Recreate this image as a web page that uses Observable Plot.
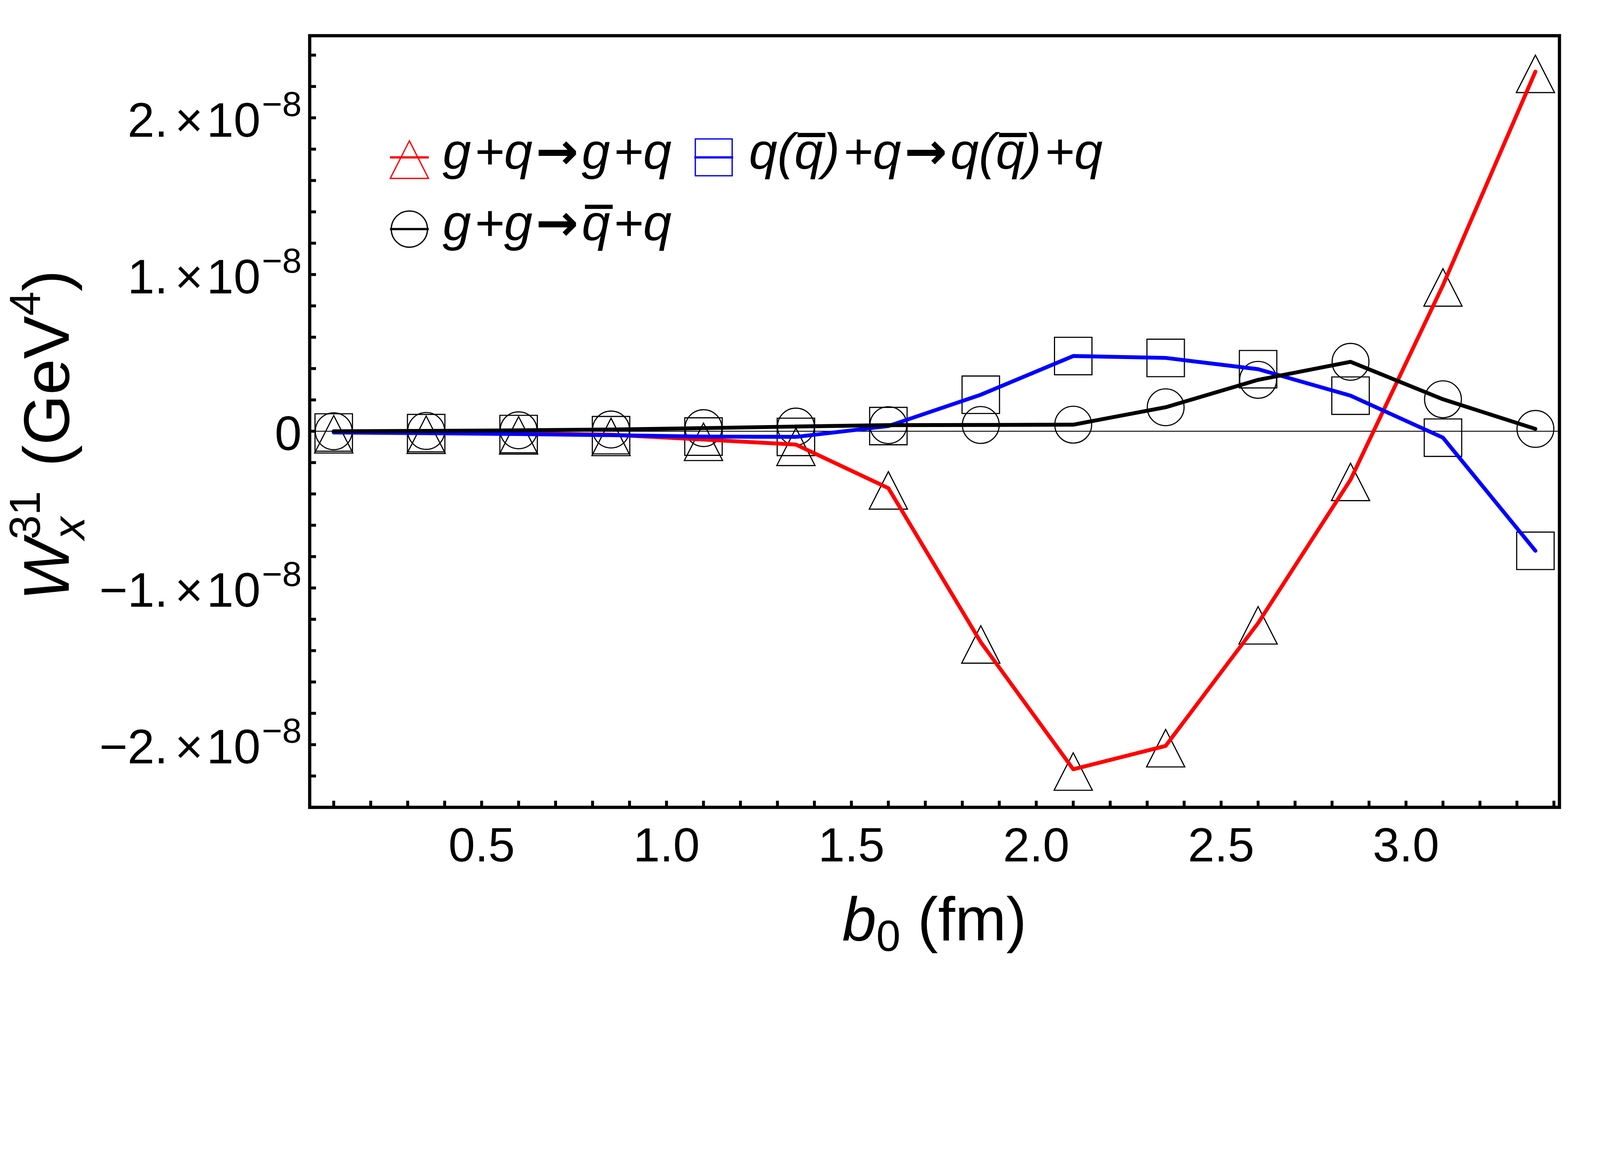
<!DOCTYPE html>
<html>
<head>
<meta charset="utf-8">
<script src="https://cdn.jsdelivr.net/npm/d3@7"></script>
<script src="https://cdn.jsdelivr.net/npm/@observablehq/plot@0.6"></script>
<style>
  html, body { margin: 0; padding: 0; background: #fff; }
  #chart svg { display: block; width: 100%; height: auto; max-width: 100%; }
</style>
</head>
<body>
<div id="chart"></div>
<script>
// ---- data ----
const b0 = [0.1, 0.35, 0.6, 0.85, 1.1, 1.35, 1.6, 1.85, 2.1, 2.35, 2.6, 2.85, 3.1, 3.35];
// g+q -> g+q (red, triangles)
const gqgq = [-0.005e-8, -0.008e-8, -0.012e-8, -0.022e-8, -0.053e-8, -0.085e-8, -0.363e-8, -1.346e-8, -2.157e-8, -2.008e-8, -1.224e-8, -0.309e-8, 0.932e-8, 2.295e-8];
// q(qbar)+q -> q(qbar)+q (blue, squares)
const qqqq = [-0.008e-8, -0.012e-8, -0.018e-8, -0.025e-8, -0.034e-8, -0.036e-8, 0.033e-8, 0.233e-8, 0.480e-8, 0.468e-8, 0.396e-8, 0.227e-8, -0.041e-8, -0.763e-8];
// g+g -> qbar+q (black, circles)
const ggqq = [0.000e-8, 0.002e-8, 0.006e-8, 0.011e-8, 0.020e-8, 0.030e-8, 0.039e-8, 0.040e-8, 0.042e-8, 0.153e-8, 0.328e-8, 0.443e-8, 0.204e-8, 0.015e-8];

const seriesColors = ["#ff0000", "#0000ff", "#000000"];
const xTickLabels = [0.5, 1.0, 1.5, 2.0, 2.5, 3.0];
const xMinorTicks = d3.range(1, 35).map(i => i / 10);          // 0.1 ... 3.4
const yTickLabels = [-2e-8, -1e-8, 0, 1e-8, 2e-8];
const yMinorTicks = d3.range(-12, 13).map(i => i * 0.2e-8);     // -2.4e-8 ... 2.4e-8
const xDomain = [0.035, 3.415];
const yDomain = [-2.40e-8, 2.524e-8];

// ---- layout ----
const W = 4952, H = 3000;
const mLeft = 958, mRight = 126, mTop = 110, mBottom = 502;
const frameW = W - mLeft - mRight, frameH = H - mTop - mBottom;
const FONT = "'Liberation Sans', Arial, Helvetica, sans-serif";
const ARROW_FONT = "'DejaVu Sans', sans-serif";

const rows = b0.map((x, i) => ({b0: x, gq: gqgq[i], qq: qqqq[i], gg: ggqq[i]}));

// triangle glyph whose reference point sits ~44% down from the apex
const triangle = {
  draw(ctx, size) {
    const r = Math.sqrt(size / Math.PI);
    ctx.moveTo(0, -0.88 * r);
    ctx.lineTo(1.02 * r, 1.12 * r);
    ctx.lineTo(-1.02 * r, 1.12 * r);
    ctx.closePath();
  }
};

function fmtY(d) {
  if (d === 0) return "0";
  const m = Math.round(Math.abs(d) / 1e-8);
  return (d < 0 ? "\u2212" : "") + m + ".|×|10|\u22128";
}

const plot = Plot.plot({
  width: W, height: H,
  marginLeft: mLeft, marginRight: mRight, marginTop: mTop, marginBottom: mBottom,
  style: {fontFamily: FONT, fontSize: "150px", color: "black", background: "white"},
  x: {domain: xDomain},
  y: {domain: yDomain},
  marks: [
    Plot.ruleY([0], {stroke: "black", strokeWidth: 3}),
    Plot.dot(rows, {x: "b0", y: "gq", symbol: triangle, r: 58, stroke: "black", fill: "none", strokeWidth: 3.5}),
    Plot.dot(rows, {x: "b0", y: "qq", symbol: "square", r: 65.4, stroke: "black", fill: "none", strokeWidth: 3.5}),
    Plot.dot(rows, {x: "b0", y: "gg", symbol: "circle", r: 57, stroke: "black", fill: "none", strokeWidth: 3.5}),
    Plot.line(rows, {x: "b0", y: "gq", stroke: seriesColors[0], strokeWidth: 12}),
    Plot.line(rows, {x: "b0", y: "qq", stroke: seriesColors[1], strokeWidth: 12}),
    Plot.line(rows, {x: "b0", y: "gg", stroke: seriesColors[2], strokeWidth: 12}),
    Plot.tickX(xMinorTicks, {x: d => d, insetTop: frameH - 20, stroke: "black", strokeWidth: 9}),
    Plot.tickY(yMinorTicks, {y: d => d, insetRight: frameW - 20, stroke: "black", strokeWidth: 9}),
    Plot.frame({stroke: "black", strokeWidth: 10}),
    Plot.axisX(xTickLabels, {tickSize: 0, tickPadding: 62, tickFormat: d3.format(".1f"), label: null, fontSize: 148}),
    Plot.axisY(yTickLabels, {tickSize: 0, tickPadding: 25, tickFormat: fmtY, label: null, fontSize: 150, dy: 10})
  ]
});

document.getElementById("chart").appendChild(plot);
const svg = d3.select(plot);

// y tick labels: "m. × 10^-8" with spacing and superscript exponent
svg.selectAll('g[aria-label="y-axis tick label"] text').each(function () {
  const s = this.textContent;
  if (!s.includes("|")) return;
  const [m, times, ten, ex] = s.split("|");
  const t = d3.select(this);
  t.text(null);
  t.append("tspan").text(m);
  t.append("tspan").attr("dx", 21).text(times);
  t.append("tspan").attr("dx", 11).text(ten);
  t.append("tspan").attr("dx", 4).attr("font-size", 108).attr("dy", -64).text(ex);
});

const xs = plot.scale("x"), ys = plot.scale("y");
const fL = xs.range[0], fR = xs.range[1];
const fB = ys.range[0], fT = ys.range[1];

// x-axis label: b0 (fm)
const xl = svg.append("text")
  .attr("x", (fL + fR) / 2).attr("y", fB + 412)
  .attr("text-anchor", "middle").attr("font-family", FONT).attr("font-size", 190).attr("fill", "black");
xl.append("tspan").attr("font-style", "italic").text("b");
xl.append("tspan").attr("font-size", 135).attr("dy", 33).text("0");
xl.append("tspan").attr("dy", -33).text(" (fm)");

// y-axis label: W_x^31 (GeV^4)
const yl = svg.append("text")
  .attr("transform", `translate(213, ${(fT + fB) / 2 + 43}) rotate(-90)`)
  .attr("text-anchor", "middle").attr("font-family", FONT).attr("font-size", 200).attr("fill", "black");
yl.append("tspan").attr("font-style", "italic").text("W");
const sup31 = yl.append("tspan").attr("font-size", 135).attr("dy", -90).text("31");
const supW = sup31.node().getComputedTextLength();
const subx = yl.append("tspan").attr("font-size", 140).attr("font-style", "italic").attr("dx", -supW).attr("dy", 90 + 48).text("x");
const subW = subx.node().getComputedTextLength();
yl.append("tspan").attr("dx", Math.max(0, supW - subW) + 20).attr("dy", -48).text(" (GeV");
yl.append("tspan").attr("font-size", 135).attr("dy", -90).text("4");
yl.append("tspan").attr("dy", 90).text(")");

// legend (tokens: text, overline flag, extra spacing before)
const OP = 10;
const legendItems = [
  {sym: triangle, size: Math.PI * 58 * 58, color: seriesColors[0], cx: fL + 309, cy: fT + 377, tx: fL + 412,
   tokens: [["g"], ["+", 0, OP], ["q"], ["→", 0, OP], ["g", 0, OP], ["+", 0, OP], ["q"]]},
  {sym: d3.symbolSquare, size: 114 * 114, color: seriesColors[1], cx: fL + 1251, cy: fT + 377, tx: fL + 1360,
   tokens: [["q"], ["("], ["q", 1], [")"], ["+", 0, OP], ["q"], ["→", 0, OP], ["q", 0, OP], ["("], ["q", 1], [")"], ["+", 0, OP], ["q"]]},
  {sym: "circle", color: seriesColors[2], cx: fL + 309, cy: fT + 599, tx: fL + 412,
   tokens: [["g"], ["+", 0, OP], ["g"], ["→", 0, OP], ["q", 1, OP], ["+", 0, OP], ["q"]]}
];
const lg = svg.append("g").attr("aria-label", "legend");
for (const it of legendItems) {
  if (it.sym === "circle") {
    lg.append("circle").attr("cx", it.cx).attr("cy", it.cy).attr("r", 56)
      .attr("fill", "none").attr("stroke", it.color).attr("stroke-width", 4);
  } else {
    lg.append("path").attr("transform", `translate(${it.cx},${it.cy})`)
      .attr("d", d3.symbol(it.sym, it.size)())
      .attr("fill", "none").attr("stroke", it.color).attr("stroke-width", 4);
  }
  lg.append("line").attr("x1", it.cx - 60).attr("x2", it.cx + 60).attr("y1", it.cy).attr("y2", it.cy)
    .attr("stroke", it.color).attr("stroke-width", 7);
  const baseline = it.cy + 35;
  const t = lg.append("text").attr("x", it.tx).attr("y", baseline).attr("text-anchor", "start")
    .attr("font-family", FONT).attr("font-size", 158).attr("font-style", "italic").attr("fill", "black");
  const barred = [];
  for (const [str, bar, dx] of it.tokens) {
    const sp = t.append("tspan").text(str);
    if (dx) sp.attr("dx", dx);
    if (str === "→") sp.attr("font-family", ARROW_FONT).attr("font-style", "normal").attr("font-weight", "bold");
    if (bar) barred.push(sp.node());
  }
  // bar over q (antiquark), placed near cap height
  for (const node of barred) {
    const ext = node.getExtentOfChar(0);
    lg.append("line")
      .attr("x1", ext.x + 10).attr("x2", ext.x + ext.width + 8)
      .attr("y1", baseline - 104).attr("y2", baseline - 104)
      .attr("stroke", "black").attr("stroke-width", 13);
  }
}
</script>
</body>
</html>
